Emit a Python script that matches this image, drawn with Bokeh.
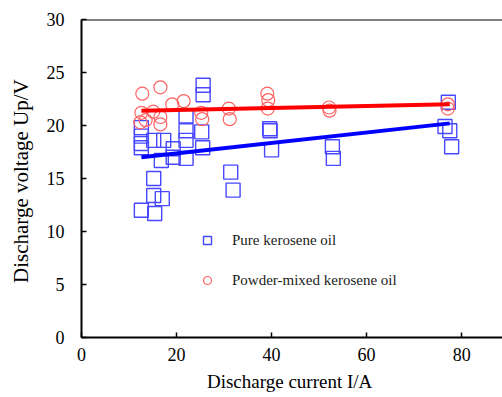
from bokeh.plotting import figure
from bokeh.models import Range1d, FixedTicker, Span, Legend, LegendItem
from bokeh.embed import file_html
from bokeh.resources import INLINE

# Pure kerosene oil (squares)
pure_x = [12.6, 12.6, 12.6, 12.6, 12.6, 15.4, 15.2, 17.0, 15.2, 15.2, 17.3, 16.8,
          19.3, 19.3, 22.0, 22.0, 22.0, 22.0, 25.6, 25.6, 25.3, 25.5, 31.4, 31.9,
          39.6, 39.7, 40.0, 52.8, 53.0, 77.2, 76.5, 77.5, 77.9]
pure_y = [12.0, 17.9, 18.3, 19.0, 19.8, 11.7, 13.4, 13.1, 15.0, 18.6, 18.6, 16.7,
          17.8, 17.0, 16.9, 18.6, 19.5, 20.9, 23.8, 22.9, 19.4, 17.9, 15.6, 13.9,
          19.7, 19.5, 17.7, 18.0, 16.9, 22.2, 19.9, 19.5, 18.0]

# Powder-mixed kerosene oil (circles)
mix_x = [12.8, 16.6, 19.1, 21.5, 12.6, 13.5, 12.4, 15.1, 16.6, 16.6, 25.2, 25.4,
         31.0, 31.2, 39.1, 39.3, 39.2, 52.1, 52.2, 77.1, 77.1]
mix_y = [23.0, 23.6, 22.0, 22.3, 21.2, 20.5, 20.3, 21.3, 20.8, 20.1, 21.2, 20.6,
         21.6, 20.6, 23.0, 22.4, 21.6, 21.7, 21.4, 22.0, 21.6]

# Trend lines
fit_x = [12.6, 77.5]
pure_fit = [17.0, 20.2]
mix_fit = [21.4, 22.0]

x_ticks = [0, 20, 40, 60, 80]
y_ticks = [0, 5, 10, 15, 20, 25, 30]

FONT = "Liberation Serif"

p = figure(width=502, height=397, output_backend="svg", toolbar_location=None,
           x_range=Range1d(0, 88.6), y_range=Range1d(0, 30),
           min_border_left=81, min_border_right=0, min_border_top=19,
           min_border_bottom=60)
p.outline_line_color = None
p.xgrid.visible = False
p.ygrid.visible = False
p.background_fill_color = "white"
p.border_fill_color = "white"

p.add_layout(Span(location=30, dimension="width", line_color="black", line_width=2))

sq = p.scatter(pure_x, pure_y, marker="square", size=14, fill_color=None,
               line_color="#4848ff", line_width=1.4)
ci = p.scatter(mix_x, mix_y, marker="circle", size=13, fill_color=None,
               line_color="#ff6262", line_width=1.2)
p.line(fit_x, pure_fit, line_color="#0000ff", line_width=4)
p.line(fit_x, mix_fit, line_color="#ff0000", line_width=4)

for ax in (p.xaxis[0], p.yaxis[0]):
    ax.axis_line_width = 2
    ax.axis_line_color = "black"
    ax.major_tick_in = 5
    ax.major_tick_out = 0
    ax.major_tick_line_width = 1.5
    ax.minor_tick_line_color = None
    ax.major_label_text_font = FONT
    ax.major_label_text_font_style = "normal"
    ax.major_label_text_font_size = "18px"
    ax.major_label_text_color = "black"
    ax.axis_label_text_font = FONT
    ax.axis_label_text_font_style = "normal"
    ax.axis_label_text_color = "black"

p.xaxis[0].ticker = FixedTicker(ticks=x_ticks)
p.yaxis[0].ticker = FixedTicker(ticks=y_ticks)
p.xaxis[0].axis_label = "Discharge current  I/A"
p.yaxis[0].axis_label = "Discharge voltage  Up/V"
p.xaxis[0].axis_label_text_font_size = "19px"
p.yaxis[0].axis_label_text_font_size = "21px"
p.xaxis[0].major_label_standoff = 10
p.xaxis[0].axis_label_standoff = 7
p.yaxis[0].major_label_standoff = 17
p.yaxis[0].axis_label_standoff = 11

legend = Legend(items=[LegendItem(label="Pure kerosene oil", renderers=[sq]),
                       LegendItem(label="Powder-mixed kerosene oil", renderers=[ci])],
                location=(116, 47), border_line_color=None, background_fill_alpha=0,
                padding=0, margin=0, spacing=20, glyph_height=20, glyph_width=20,
                label_height=20, label_standoff=15, label_text_font=FONT,
                label_text_font_style="normal",
                label_text_font_size="15px", label_text_color="#222222")
p.add_layout(legend)

open("out.html", "w").write(file_html(p, INLINE))
